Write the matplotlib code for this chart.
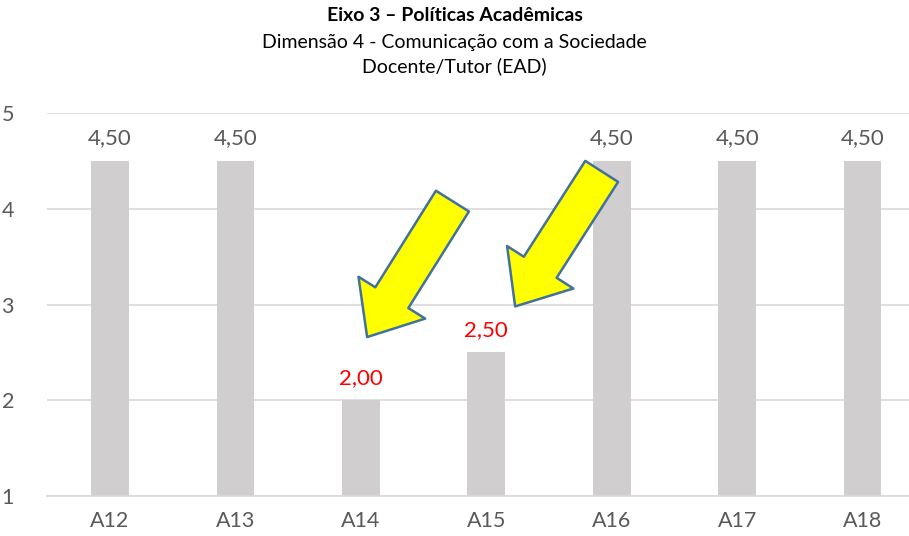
import numpy as np
import matplotlib.pyplot as plt

categorias = ['A12', 'A13', 'A14', 'A15', 'A16', 'A17', 'A18']
valores = [4.5, 4.5, 2.0, 2.5, 4.5, 4.5, 4.5]
destaque = [False, False, True, True, False, False, False]

# setas: (cauda, ponta) em coordenadas de dados
setas = [((2.73, 4.08), (2.05, 2.66)),
         ((3.92, 4.39), (3.23, 2.98))]

plt.rcParams['font.family'] = ['Lato', 'DejaVu Sans']

fig = plt.figure(figsize=(9.09, 5.36), dpi=100)
ax = fig.add_axes([0.052, 0.0746, 0.948, 0.7146])

x = np.arange(len(categorias))
ax.bar(x, valores, width=0.3, color='#D0CECE', bottom=0, zorder=2)

for xi, v, d in zip(x, valores, destaque):
    ax.annotate(f'{v:.2f}'.replace('.', ','), (xi, v), xytext=(0, 9),
                textcoords='offset points', ha='center', va='bottom',
                fontsize=16, color='#FF0000' if d else '#595959', zorder=4)

for (cauda, ponta) in setas:
    ax.annotate('', xy=ponta, xytext=cauda,
                arrowprops=dict(arrowstyle='simple,head_length=0.62,head_width=1.05,tail_width=0.52',
                                mutation_scale=54, facecolor='#FFFF00',
                                edgecolor='#41719C', linewidth=1.8,
                                shrinkA=0, shrinkB=0), zorder=5)

ax.set_ylim(1, 5)
ax.set_xlim(-0.5, 6.37)
ax.set_yticks([1, 2, 3, 4, 5])
ax.set_xticks(x)
ax.set_xticklabels(categorias)
ax.yaxis.grid(True, color='#D9D9D9', linewidth=1.2, zorder=0)
ax.set_axisbelow(True)
for s in ['top', 'right', 'left']:
    ax.spines[s].set_visible(False)
ax.spines['bottom'].set_color('#D9D9D9')
ax.spines['bottom'].set_linewidth(1.2)
ax.tick_params(axis='both', length=0, labelsize=15.5, colors='#595959')
ax.tick_params(axis='y', pad=24)
ax.tick_params(axis='x', pad=11)

fig.text(0.5, 0.972, 'Eixo 3 – Políticas Acadêmicas', ha='center', va='center',
         fontsize=14, fontweight='bold', color='black')
fig.text(0.5, 0.92, 'Dimensão 4 - Comunicação com a Sociedade', ha='center',
         va='center', fontsize=14, color='black')
fig.text(0.5, 0.877, 'Docente/Tutor (EAD)', ha='center', va='center',
         fontsize=14, color='black')

fig.savefig('out.png', dpi=100)
